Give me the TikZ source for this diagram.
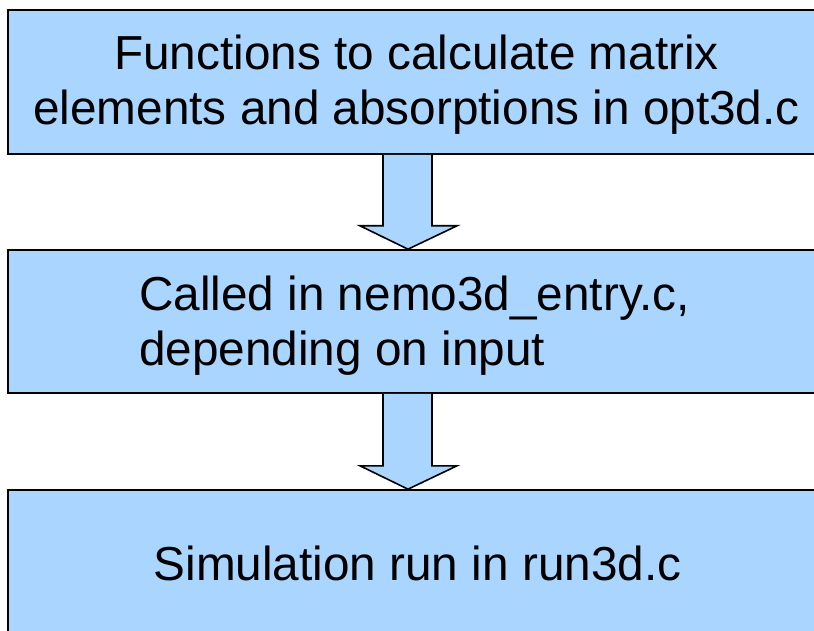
\documentclass[tikz,border=0pt]{standalone}
\usepackage{fontspec}
\setmainfont{Liberation Sans}
\usetikzlibrary{calc}
\definecolor{boxblue}{RGB}{170,213,255}
\begin{document}
\begin{tikzpicture}[x=1pt,y=-1pt,
  box/.style={draw=black,line width=1.6pt,fill=boxblue,minimum width=816pt,inner sep=0pt},
  label text/.style={inner sep=0pt,font=\fontsize{47.7}{55}\selectfont},
  blockarrow/.style={draw=black,line width=1.6pt,fill=boxblue,line join=miter}]
\useasboundingbox (0,0) rectangle (814,631);
\begin{scope}
\clip (0,0) rectangle (814,631);
\node[box,minimum height=144pt] (a) at (416,82) {};
\node[box,minimum height=143pt] (b) at (416,321.5) {};
\node[box,minimum height=144pt] (c) at (416,562) {};
\end{scope}
\node[label text,align=center,anchor=base] (at) at (416.5,125) {Functions to calculate matrix\\elements and absorptions in opt3d.c};
\node[label text,align=left,anchor=base west] (bt) at (139,365) {Called in nemo3d\_entry.c,\\depending on input};
\node[label text,anchor=base] (ct) at (417.5,580) {Simulation run in run3d.c};
\draw[blockarrow] ($(a.south)+(-33,0)$) -- ($(a.south)+(-33,71)$) -- ($(a.south)+(-56,71)$)
  -- ($(b.north)+(-8,0)$) -- ($(a.south)+(41,71)$) -- ($(a.south)+(16,71)$) -- ($(a.south)+(16,0)$);
\draw[blockarrow] ($(b.south)+(-33,0)$) -- ($(b.south)+(-33,72)$) -- ($(b.south)+(-56,72)$)
  -- ($(c.north)+(-8,0)$) -- ($(b.south)+(41,72)$) -- ($(b.south)+(16,72)$) -- ($(b.south)+(16,0)$);
\end{tikzpicture}
\end{document}
